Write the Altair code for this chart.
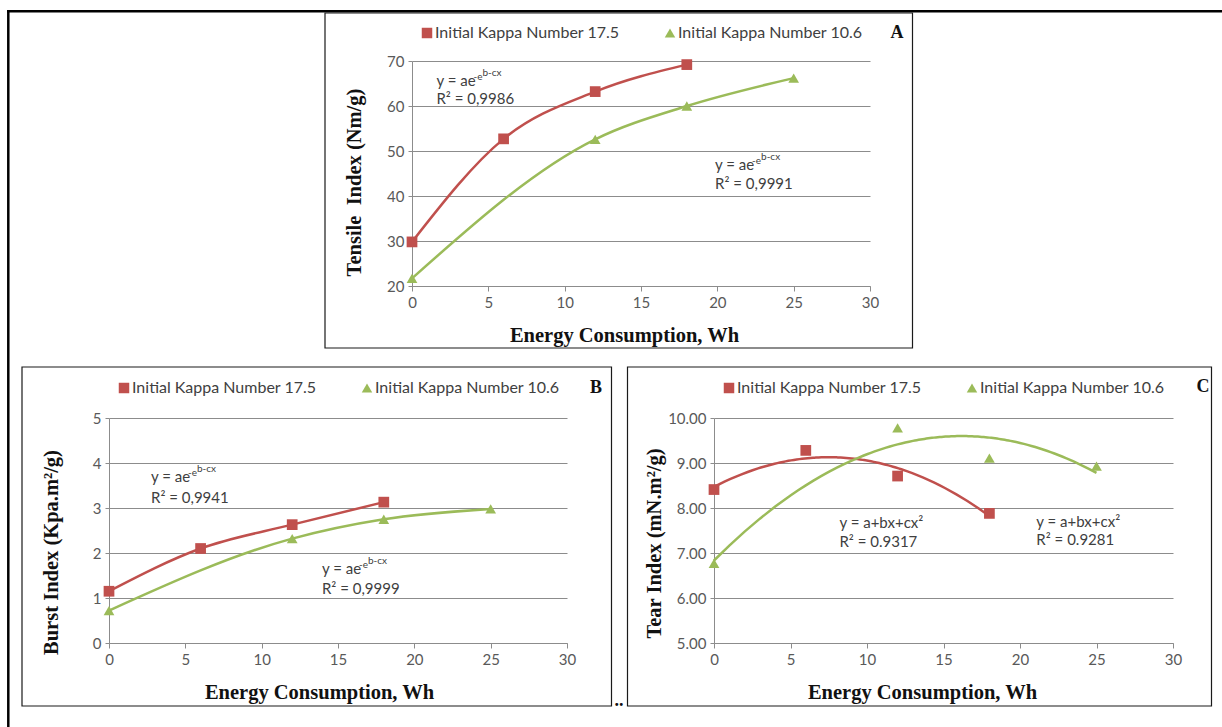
import altair as alt
import pandas as pd

# ---------------------------------------------------------------------------
# Data: energy consumption (Wh) vs. paper strength for two initial kappa numbers
# ---------------------------------------------------------------------------
SERIES = ["Initial Kappa Number 17.5", "Initial Kappa Number 10.6"]
COLORS = ["#C0504D", "#9BBB59"]
SHAPES = ["square", "triangle-up"]

energy_175 = [0, 6, 12, 18]
energy_106 = [0, 12, 18, 25]

tensile_175 = [29.8, 52.7, 63.2, 69.2]
tensile_106 = [21.7, 52.6, 60.0, 66.2]

burst_175 = [1.15, 2.10, 2.63, 3.13]
burst_106 = [0.72, 2.32, 2.75, 2.98]

tear_175 = [8.41, 9.28, 8.71, 7.88]
tear_106 = [6.77, 9.78, 9.11, 8.93]

x_ticks = [0, 5, 10, 15, 20, 25, 30]
tensile_ticks = [20, 30, 40, 50, 60, 70]
burst_ticks = [0, 1, 2, 3, 4, 5]
tear_ticks = [5, 6, 7, 8, 9, 10]

# Fit annotations (anchor of the equation line and of the R² line, in data units)
tensile_eq_x = [1.6, 19.85]
tensile_eq_y = [65.6, 47.0]
tensile_r2_y = [61.6, 42.6]
tensile_r2 = ["R² = 0,9986", "R² = 0,9991"]

burst_eq_x = [2.75, 13.95]
burst_eq_y = [3.69, 1.64]
burst_r2_y = [3.23, 1.20]
burst_r2 = ["R² = 0,9941", "R² = 0,9999"]

tear_eq_x = [8.2, 21.07]
tear_eq_y = [7.67, 7.70]
tear_r2_y = [7.24, 7.28]
tear_r2 = ["R² = 0.9317", "R² = 0.9281"]

GOMPERTZ = "y = ae"
QUADRATIC = "y = a+bx+cx²"

# ---------------------------------------------------------------------------
W, H = 1222, 727
SANS = "Lato"
SERIF = "Liberation Serif"
AXIS_GREY = "#8c8c8c"
GRID_GREY = "#8c8c8c"
LABEL_GREY = "#595959"
TEXT_DARK = "#404040"
INK = "#111111"

dummy = pd.DataFrame({"_": [0]})


def series_frame(v175, v106):
    return pd.DataFrame({
        "energy": energy_175 + energy_106,
        "value": v175 + v106,
        "series": [SERIES[0]] * len(energy_175) + [SERIES[1]] * len(energy_106),
    })


def note_frame(ex, ey, ry, eq, r2):
    return pd.DataFrame({"ex": ex, "ey": ey, "ry": ry, "eq": [eq] * len(ex), "r2": r2})


panels = [
    dict(
        data=series_frame(tensile_175, tensile_106),
        notes=note_frame(tensile_eq_x, tensile_eq_y, tensile_r2_y, GOMPERTZ, tensile_r2),
        fit="smooth", xr=[412, 870], yr=[286, 61], ydom=[20, 70], yticks=tensile_ticks,
        yfmt="d", ytitle="Tensile\u00a0 Index (Nm/g)", ytitle_xy=(-58, 182), xtitle_x=624,
        legend_xy=(419, 25), letter="A", letter_xy=(897, 33), box=(325, 13, 912.5, 348),
    ),
    dict(
        data=series_frame(burst_175, burst_106),
        notes=note_frame(burst_eq_x, burst_eq_y, burst_r2_y, GOMPERTZ, burst_r2),
        fit="smooth", xr=[109, 567], yr=[643, 418], ydom=[0, 5], yticks=burst_ticks,
        yfmt="d", ytitle="Burst Index (Kpa.m²/g)", ytitle_xy=(-58, 552), xtitle_x=319,
        legend_xy=(116, 380), letter="B", letter_xy=(596, 388), box=(22, 367, 611.5, 706),
    ),
    dict(
        data=series_frame(tear_175, tear_106),
        notes=note_frame(tear_eq_x, tear_eq_y, tear_r2_y, QUADRATIC, tear_r2),
        fit="quad", xr=[714, 1173], yr=[643, 418], ydom=[5, 10], yticks=tear_ticks,
        yfmt=".2f", ytitle="Tear Index (mN.m²/g)", ytitle_xy=(-60, 543), xtitle_x=922,
        legend_xy=(721, 380), letter="C", letter_xy=(1203, 387), box=(627.5, 367, 1211.5, 706),
    ),
]


def panel_layers(p):
    xs = alt.Scale(domain=[0, 30], range=p["xr"], nice=False, zero=False)
    ys = alt.Scale(domain=p["ydom"], range=p["yr"], nice=False, zero=False)
    cs = alt.Scale(domain=SERIES, range=COLORS)
    ss = alt.Scale(domain=SERIES, range=SHAPES)
    base = alt.Chart(p["data"])

    x_axis = alt.Axis(
        orient="bottom", offset=p["yr"][0] - H, values=x_ticks, grid=False,
        domainColor=AXIS_GREY, tickColor=AXIS_GREY, tickSize=5, labelFlush=False,
        labelFont=SANS, labelFontSize=15, labelColor=LABEL_GREY, labelPadding=4,
        title="Energy Consumption, Wh", titleFont=SERIF, titleFontSize=20.5,
        titleFontWeight="bold", titleColor=INK, titleX=p["xtitle_x"], titleY=55,
        titleAlign="center", titleBaseline="alphabetic",
    )
    y_axis = alt.Axis(
        orient="left", offset=-p["xr"][0], values=p["yticks"], format=p["yfmt"],
        grid=True, gridColor=GRID_GREY, gridWidth=1, domainColor=AXIS_GREY,
        tickColor=AXIS_GREY, tickSize=4, labelFlush=False, labelFont=SANS,
        labelFontSize=15, labelColor=LABEL_GREY, labelPadding=4,
        title=p["ytitle"], titleFont=SERIF, titleFontSize=20.5, titleFontWeight="bold",
        titleColor=INK, titleX=p["ytitle_xy"][0], titleY=p["ytitle_xy"][1],
        titleAngle=270, titleAlign="center", titleBaseline="middle",
    )
    legend = alt.Legend(
        title=None, orient="none", legendX=p["legend_xy"][0], legendY=p["legend_xy"][1],
        direction="horizontal", labelFont=SANS, labelFontSize=16, labelColor=TEXT_DARK,
        symbolSize=110, symbolStrokeWidth=0, columnPadding=42, labelOffset=0,
        padding=0, labelLimit=0,
    )

    layers = []
    # fitted curves
    if p["fit"] == "smooth":
        layers.append(
            base.mark_line(interpolate="monotone", strokeWidth=2.5).encode(
                x=alt.X("energy:Q", scale=xs, axis=None),
                y=alt.Y("value:Q", scale=ys, axis=None),
                color=alt.Color("series:N", scale=cs, legend=None),
                detail="series:N",
            )
        )
    else:
        for name, col, xs_data in zip(SERIES, COLORS, [energy_175, energy_106]):
            layers.append(
                base.transform_filter(alt.datum.series == name)
                .transform_regression("energy", "value", method="poly", order=2,
                                      extent=[min(xs_data), max(xs_data)])
                .mark_line(color=col, strokeWidth=2.5)
                .encode(
                    x=alt.X("energy:Q", scale=xs, axis=None),
                    y=alt.Y("value:Q", scale=ys, axis=None),
                )
            )
    # measured points, axes and legend
    layers.append(
        base.mark_point(filled=True, opacity=1, size=115).encode(
            x=alt.X("energy:Q", scale=xs, axis=x_axis),
            y=alt.Y("value:Q", scale=ys, axis=y_axis),
            color=alt.Color("series:N", scale=cs, legend=legend),
            shape=alt.Shape("series:N", scale=ss, legend=legend),
        )
    )
    # fit equations and R²
    notes = alt.Chart(p["notes"])
    txt = dict(align="left", baseline="middle", font=SANS, fontSize=15, color=TEXT_DARK)
    layers.append(notes.mark_text(**txt).encode(
        x=alt.X("ex:Q", scale=xs, axis=None), y=alt.Y("ey:Q", scale=ys, axis=None), text="eq:N"))
    layers.append(notes.mark_text(**txt).encode(
        x=alt.X("ex:Q", scale=xs, axis=None), y=alt.Y("ry:Q", scale=ys, axis=None), text="r2:N"))
    if p["fit"] == "smooth":
        sup = dict(align="left", baseline="middle", font=SANS, fontSize=10, color=TEXT_DARK)
        layers.append(notes.mark_text(dx=37, dy=-4, text="-e", **sup).encode(
            x=alt.X("ex:Q", scale=xs, axis=None), y=alt.Y("ey:Q", scale=ys, axis=None)))
        layers.append(notes.mark_text(dx=46, dy=-8, text="b-cx", **sup).encode(
            x=alt.X("ex:Q", scale=xs, axis=None), y=alt.Y("ey:Q", scale=ys, axis=None)))

    # panel frame and letter
    x0, y0, x1, y1 = p["box"]
    layers.append(alt.Chart(dummy).mark_rect(fillOpacity=0, stroke="#1a1a1a", strokeWidth=1.2).encode(
        x=alt.value(x0), x2=alt.value(x1), y=alt.value(y0), y2=alt.value(y1)))
    layers.append(alt.Chart(dummy).mark_text(
        text=p["letter"], font=SERIF, fontWeight="bold", fontSize=18, color=INK,
        align="center", baseline="middle").encode(
        x=alt.value(p["letter_xy"][0]), y=alt.value(p["letter_xy"][1])))
    return layers


all_layers = []
# page frame: heavy rules along the top and the left edge
all_layers.append(alt.Chart(dummy).mark_rule(color="black", strokeWidth=2.5).encode(
    x=alt.value(7), x2=alt.value(W), y=alt.value(11.2)))
all_layers.append(alt.Chart(dummy).mark_rule(color="black", strokeWidth=2.5).encode(
    x=alt.value(8.3), y=alt.value(10), y2=alt.value(H)))
for p in panels:
    all_layers.extend(panel_layers(p))
all_layers.append(alt.Chart(dummy).mark_text(
    text="..", font=SERIF, fontWeight="bold", fontSize=18, color=INK,
    align="center", baseline="alphabetic").encode(x=alt.value(619), y=alt.value(706)))

chart = (
    alt.layer(*all_layers)
    .resolve_scale(x="independent", y="independent", color="independent", shape="independent")
    .properties(width=W, height=H, autosize=alt.AutoSizeParams(type="none"),
                padding=0, background="white")
    .configure_view(strokeWidth=0)
)

chart.save("out.html", embed_options={"renderer": "svg", "actions": False})
